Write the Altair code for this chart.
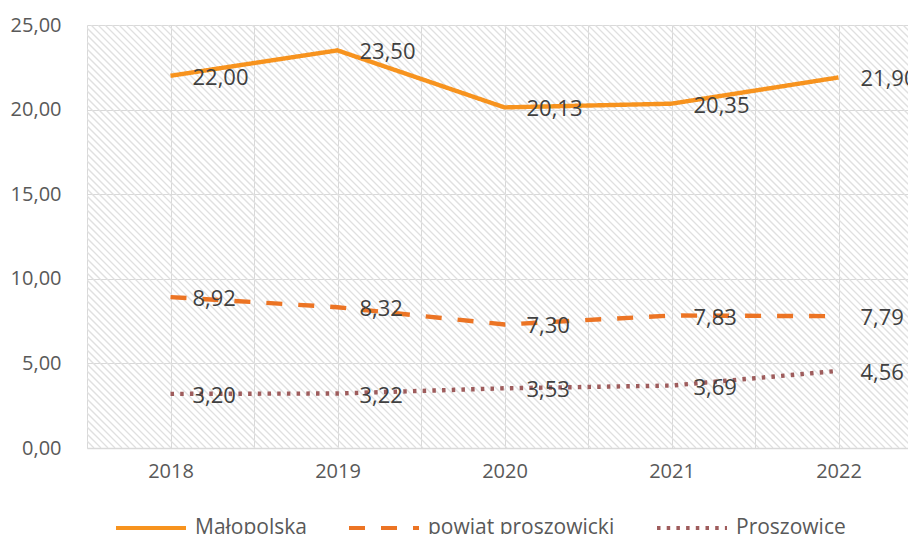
import altair as alt
import numpy as np
import pandas as pd

years = [2018, 2019, 2020, 2021, 2022]
malopolska = [22.00, 23.50, 20.13, 20.35, 21.90]
powiat = [8.92, 8.32, 7.30, 7.83, 7.79]
proszowice = [3.20, 3.22, 3.53, 3.69, 4.56]
series_names = ["Małopolska", "powiat proszowicki", "Proszowice"]
series_colors = ["#F7931E", "#EC7424", "#9E5C5C"]
series_dash = [[1, 0], [16, 16], [3.5, 6.2]]
y_ticks = [0, 5, 10, 15, 20, 25]

rows = []
for name, vals in zip(series_names, [malopolska, powiat, proszowice]):
    for yr, v in zip(years, vals):
        rows.append({"year": yr, "value": v, "series": name})
df = pd.DataFrame(rows)

FONT = "Open Sans"
W, H = 821, 423
PX_PER_YEAR = 167.0
x_min = 2017.5
x_max = x_min + W / PX_PER_YEAR
y_max = 25

# decorative diagonal hatching of plot background
step = 7.0 / PX_PER_YEAR
span = H / PX_PER_YEAR
hx = np.arange(x_min - span, x_max + step, step)
hatch = pd.DataFrame({"hx": hx, "hx2": hx + span, "hy": y_max, "hy2": 0})

xscale = alt.Scale(domain=[x_min, x_max], nice=False, zero=False)
yscale = alt.Scale(domain=[0, y_max], nice=False)

grid_vals_x = [x_min + 0.5 * i for i in range(11)]

x_axis = alt.Axis(
    values=grid_vals_x,
    labelExpr="datum.value % 1 == 0 ? format(datum.value, 'd') : ''",
    grid=True,
    gridColor="#d9d9d9",
    gridWidth=1,
    ticks=False,
    domain=True,
    domainColor="#d9d9d9",
    domainWidth=1.5,
    labelFont=FONT,
    labelFontSize=20,
    labelColor="#595959",
    labelPadding=13,
    labelFlush=False,
    title=None,
)
y_axis = alt.Axis(
    values=y_ticks,
    labelExpr="replace(format(datum.value, '.2f'), '.', ',')",
    grid=True,
    gridColor="#d9d9d9",
    gridWidth=1,
    ticks=False,
    domain=False,
    labelFont=FONT,
    labelFontSize=20,
    labelColor="#595959",
    labelPadding=26,
    title=None,
)

hatch_layer = alt.Chart(hatch).mark_rule(
    color="#e0e0e0", strokeWidth=1.3, clip=True
).encode(
    x=alt.X("hx:Q", scale=xscale, axis=x_axis),
    x2="hx2:Q",
    y=alt.Y("hy:Q", scale=yscale, axis=y_axis),
    y2="hy2:Q",
)

base = alt.Chart(df)

lines = base.mark_line(strokeWidth=4.4, strokeCap="butt").encode(
    x=alt.X("year:Q", scale=xscale, axis=x_axis),
    y=alt.Y("value:Q", scale=yscale, axis=y_axis),
    color=alt.Color(
        "series:N",
        scale=alt.Scale(domain=series_names, range=series_colors),
        legend=alt.Legend(
            title=None,
            orient="none",
            legendX=27,
            legendY=466,
            direction="horizontal",
            symbolType="stroke",
            symbolSize=4900,
            symbolStrokeWidth=4,
            labelFont=FONT,
            labelFontSize=21,
            labelColor="#595959",
            labelOffset=7,
            columnPadding=34,
            labelLimit=400,
        ),
    ),
    strokeDash=alt.StrokeDash(
        "series:N",
        scale=alt.Scale(domain=series_names, range=series_dash),
        legend=None,
    ),
)

labels = base.transform_calculate(
    label="replace(format(datum.value, '.2f'), '.', ',')"
).mark_text(
    align="left", baseline="middle", dx=22, dy=2, font=FONT, fontSize=22, color="#404040"
).encode(
    x=alt.X("year:Q", scale=xscale),
    y=alt.Y("value:Q", scale=yscale),
    text="label:N",
)

chart = alt.layer(hatch_layer, lines, labels).properties(
    width=W,
    height=H,
    autosize=alt.AutoSizeParams(type="none"),
    padding={"left": 79, "top": 17, "right": 0, "bottom": 86},
).configure_view(stroke=None)

chart.save("out.html", embed_options={"renderer": "svg", "actions": False})
